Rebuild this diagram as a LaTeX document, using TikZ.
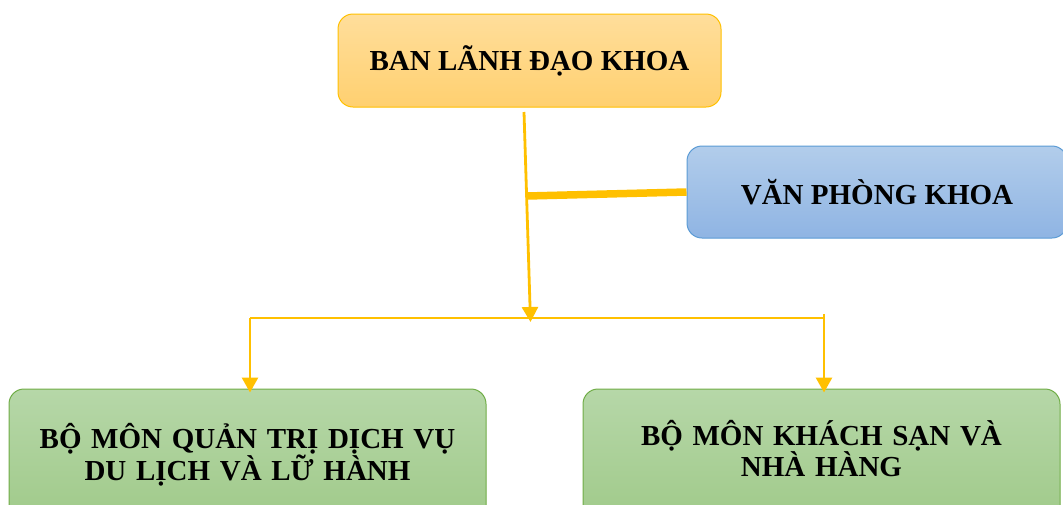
\documentclass[tikz,border=0pt]{standalone}
\usepackage{fontspec}
\setmainfont{Liberation Serif}
\usetikzlibrary{arrows.meta}
\definecolor{lineor}{RGB}{255,192,0}
\definecolor{ortop}{RGB}{255,222,155}
\definecolor{orbot}{RGB}{255,208,112}
\definecolor{ordraw}{RGB}{255,192,0}
\definecolor{bltop}{RGB}{178,205,235}
\definecolor{blbot}{RGB}{143,180,227}
\definecolor{bldraw}{RGB}{91,155,213}
\definecolor{grtop}{RGB}{182,215,168}
\definecolor{grbot}{RGB}{160,202,138}
\definecolor{grdraw}{RGB}{112,173,71}
\tikzset{
  box/.style={rounded corners=15pt, line width=1pt, align=center, inner sep=0pt,
    font=\bfseries\fontsize{29}{30}\selectfont},
  orbox/.style={box, draw=ordraw, top color=ortop, bottom color=orbot,
    minimum width=383pt, minimum height=93pt},
  blbox/.style={box, draw=bldraw, top color=bltop, bottom color=blbot,
    minimum width=380pt, minimum height=92pt},
  grbox/.style={box, draw=grdraw, top color=grtop, bottom color=grbot,
    minimum width=477pt, minimum height=132pt, text width=460pt},
  conn/.style={draw=lineor, line width=2.8pt},
  arr/.style={conn, -{Triangle[length=15pt,width=16pt]}},
}
\begin{document}
\begin{tikzpicture}[x=1pt,y=-1pt]
\useasboundingbox (0,0) rectangle (1063,504);
\clip (0,0) rectangle (1063,504);
\node[orbox] (top) at (529.5,60.5) {BAN LÃNH ĐẠO KHOA};
\node[blbox] (vp) at (877,192) {VĂN PHÒNG KHOA};
\node[grbox] (left) at (247.5,455) {BỘ MÔN QUẢN TRỊ DỊCH VỤ\\DU LỊCH VÀ LỮ HÀNH};
\node[grbox] (right) at (821.5,455) {BỘ MÔN KHÁCH SẠN VÀ\\NHÀ HÀNG\rule[-13pt]{0pt}{13pt}};
\coordinate (s) at (524,112);
\coordinate (j) at (530.5,322);
\coordinate (b) at (527,196);
\coordinate (hl) at (250,318);
\coordinate (hr) at (824,318);
\draw[arr] (s) -- (j);
\draw[draw=lineor, line width=7.5pt] (vp.west) -- (b);
\draw[conn] (hl) -- (hr);
\draw[arr] (hl) -- ([yshift=-4pt]hl |- left.north);
\draw[arr] ([yshift=4pt]hr) -- ([yshift=-4pt]hr |- right.north);
\end{tikzpicture}
\end{document}
